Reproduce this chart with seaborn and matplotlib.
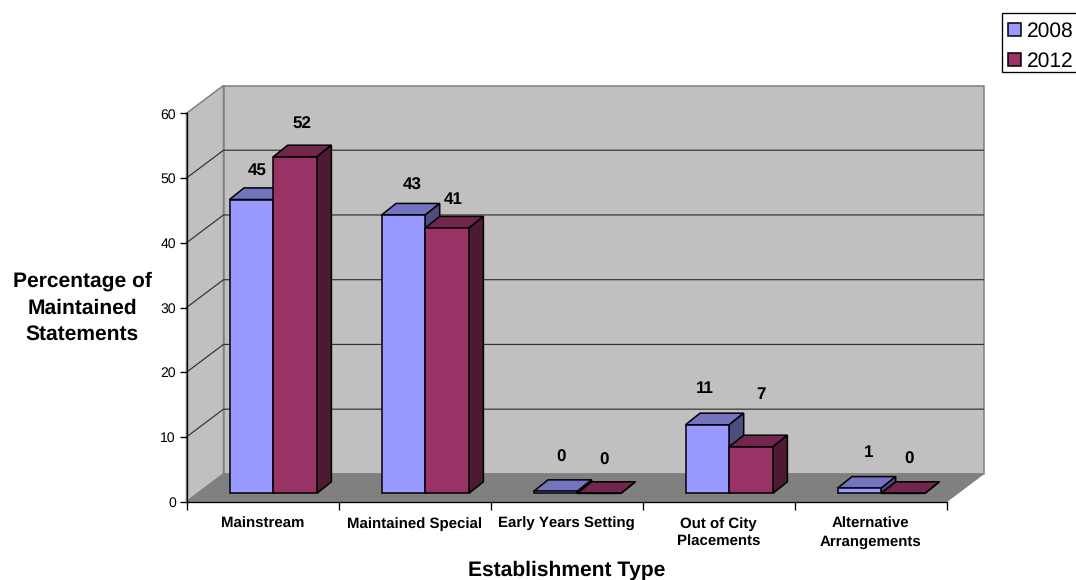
import matplotlib
matplotlib.use("Agg")
import matplotlib.pyplot as plt
import pandas as pd
import seaborn as sns
from matplotlib.patches import Polygon, Rectangle
from matplotlib.transforms import Affine2D, IdentityTransform

# Share of maintained statements by establishment type
categories = ["Mainstream", "Maintained Special", "Early Years Setting",
              "Out of City\nPlacements", "Alternative\nArrangements"]
years = ["2008", "2012"]
values_2008 = [45.4, 43.0, 0.3, 10.6, 0.8]
values_2012 = [52.0, 41.0, 0.0, 7.2, 0.0]
y_ticks = [0, 10, 20, 30, 40, 50, 60]

# Pseudo-3D styling
front_colors = {"2008": "#9999FF", "2012": "#993366"}
top_colors = {"2008": "#7373BF", "2012": "#73264D"}
side_colors = {"2008": "#4D4D80", "2012": "#4D1933"}
WALL = "#C0C0C0"
FLOOR = "#808080"
FONT = "Liberation Sans"

# Depth offsets in pixels: box depth, gap from the front plane, bar depth
BOX_DEPTH = (37.0, 27.8)
BAR_SHIFT = (10.7, 8.3)
BAR_DEPTH = (14.5, 11.6)

# Placement of each value label relative to its bar top, in pixels
label_offsets = {
    "2008": [(5.7, 28.6), (8.7, 30.0), (5.7, 33.7), (-2.0, 36.0), (9.2, 35.7)],
    "2012": [(7.3, 32.0), (6.0, 28.6), (5.0, 32.6), (10.3, 52.0), (6.3, 34.0)],
}

sns.set_theme(style="white")
plt.rcParams["font.family"] = [FONT, "DejaVu Sans"]
plt.rcParams["text.hinting"] = "no_hinting"
plt.rcParams["text.hinting_factor"] = 1

W, H = 1076, 580
fig = plt.figure(figsize=(W / 100, H / 100), dpi=100, facecolor="white")
ax = fig.add_axes([186.5 / W, 1 - 501.7 / H, 760.0 / W, 388.4 / H])
ax.patch.set_visible(False)

table = pd.DataFrame({
    "category": categories * 2,
    "year": [years[0]] * len(categories) + [years[1]] * len(categories),
    "share": values_2008 + values_2012,
})
sns.barplot(data=table, x="category", y="share", hue="year", order=categories,
            hue_order=years, palette=front_colors, saturation=1, width=0.575,
            gap=0, edgecolor="black", linewidth=1.1, legend=False, ax=ax)

ax.set_xlim(-0.5, len(categories) - 0.5)
ax.set_ylim(0, 60)


def px(x, y, depth=(0.0, 0.0)):
    """Data position to display pixels, pushed back by a depth offset."""
    dx, dy = ax.transData.transform((x, y))
    return dx + depth[0], dy + depth[1]


def face(points, fc, ec, lw, z):
    ax.add_patch(Polygon(points, closed=True, facecolor=fc, edgecolor=ec,
                         linewidth=lw, joinstyle="miter",
                         transform=IdentityTransform(), clip_on=False, zorder=z))


# Walls and floor of the chart box
x0, x1 = ax.get_xlim()
y0, y1 = ax.get_ylim()
face([px(x0, y0), px(x0, y0, BOX_DEPTH), px(x0, y1, BOX_DEPTH), px(x0, y1)],
     WALL, FLOOR, 1.1, 0.5)
face([px(x0, y0, BOX_DEPTH), px(x1, y0, BOX_DEPTH), px(x1, y1, BOX_DEPTH), px(x0, y1, BOX_DEPTH)],
     WALL, FLOOR, 1.1, 0.6)
face([px(x0, y0), px(x1, y0), px(x1, y0, BOX_DEPTH), px(x0, y0, BOX_DEPTH)],
     FLOOR, FLOOR, 0.8, 0.7)

# Gridlines across the back wall and down the side wall
for tick in y_ticks[1:-1]:
    back_l = px(x0, tick, BOX_DEPTH)
    back_r = px(x1, tick, BOX_DEPTH)
    front = px(x0, tick)
    ax.plot([front[0], back_l[0], back_r[0]], [front[1], back_l[1], back_r[1]],
            color="#303030", lw=0.85, transform=IdentityTransform(),
            clip_on=False, zorder=0.8, solid_joinstyle="miter")

# Bars: shift the front faces into the box and add their top and side faces
shift = ax.transData + Affine2D().translate(*BAR_SHIFT)
for s, (year, container) in enumerate(zip(years, ax.containers)):
    z = 3 + s
    for i, bar in enumerate(container):
        left, width, height = bar.get_x(), bar.get_width(), bar.get_height()
        right = left + width
        bar.set_transform(shift)
        bar.set_clip_on(False)
        bar.set_zorder(z + 0.2)
        bar.set_joinstyle("miter")
        fl = px(left, height, BAR_SHIFT)
        fr = px(right, height, BAR_SHIFT)
        br = px(right, 0, BAR_SHIFT)
        d = BAR_DEPTH
        face([fl, fr, (fr[0] + d[0], fr[1] + d[1]), (fl[0] + d[0], fl[1] + d[1])],
             top_colors[year], "black", 1.1, z)
        face([br, fr, (fr[0] + d[0], fr[1] + d[1]), (br[0] + d[0], br[1] + d[1])],
             side_colors[year], "black", 1.1, z)
        ax.annotate(f"{height:.0f}", xy=(left + width / 2, height), xycoords=shift,
                    xytext=label_offsets[year][i], textcoords="offset pixels",
                    ha="center", va="center", fontsize=12.3, fontweight="bold",
                    color="black", annotation_clip=False, zorder=8)

# Axes, ticks and titles
for name in ("top", "right"):
    ax.spines[name].set_visible(False)
for name in ("left", "bottom"):
    ax.spines[name].set_color("black")
    ax.spines[name].set_linewidth(0.95)
    ax.spines[name].set_zorder(2.5)

ax.set_yticks(y_ticks)
ax.tick_params(axis="y", which="major", left=True, length=5.4, width=0.95, color="black",
               pad=2.2, labelsize=9.9, labelcolor="black")
positions = list(range(len(categories)))
ax.set_xticks([p - 0.5 for p in positions] + [positions[-1] + 0.5])
ax.set_xticklabels([])
ax.set_xticks(positions, categories, minor=True)
ax.tick_params(axis="x", which="major", bottom=True, length=5.4, width=0.95, color="black")
ax.tick_params(axis="x", which="minor", bottom=False, length=0, pad=11.2, labelsize=10.7)
for label in ax.get_xticklabels(minor=True):
    label.set_fontweight("bold")
    label.set_linespacing(1.38)
    label.set_color("black")

ax.set_xlabel("Establishment Type", fontsize=15.2, fontweight="bold", color="black")
ax.xaxis.set_label_coords(0.5, (501.7 - 570.0) / 388.4)
ax.xaxis.label.set_verticalalignment("center")
ax.set_ylabel("Percentage of\nMaintained\nStatements", fontsize=15.2, fontweight="bold",
              rotation=0, ha="center", va="center", linespacing=1.47, color="black")
ax.yaxis.set_label_coords((82.0 - 186.5) / 760.0, (501.7 - 308.0) / 388.4)

# Legend in the top right corner, its frame running off the edge of the figure
fig.add_artist(Rectangle((1001.7, H - 72.3), 90.0, 59.0, facecolor="white", edgecolor="black",
                         linewidth=0.95, transform=IdentityTransform()))
fig.legend(handles=[container[0] for container in ax.containers], labels=years,
           loc="upper left", bbox_to_anchor=(1001.7 / W, 1 - 15.3 / H), borderaxespad=0,
           fontsize=14.9, frameon=False, handlelength=0.63, handleheight=0.63,
           handletextpad=0.28, borderpad=0.3, labelspacing=0.5, labelcolor="black")

fig.savefig("out.png", dpi=100, facecolor="white")
